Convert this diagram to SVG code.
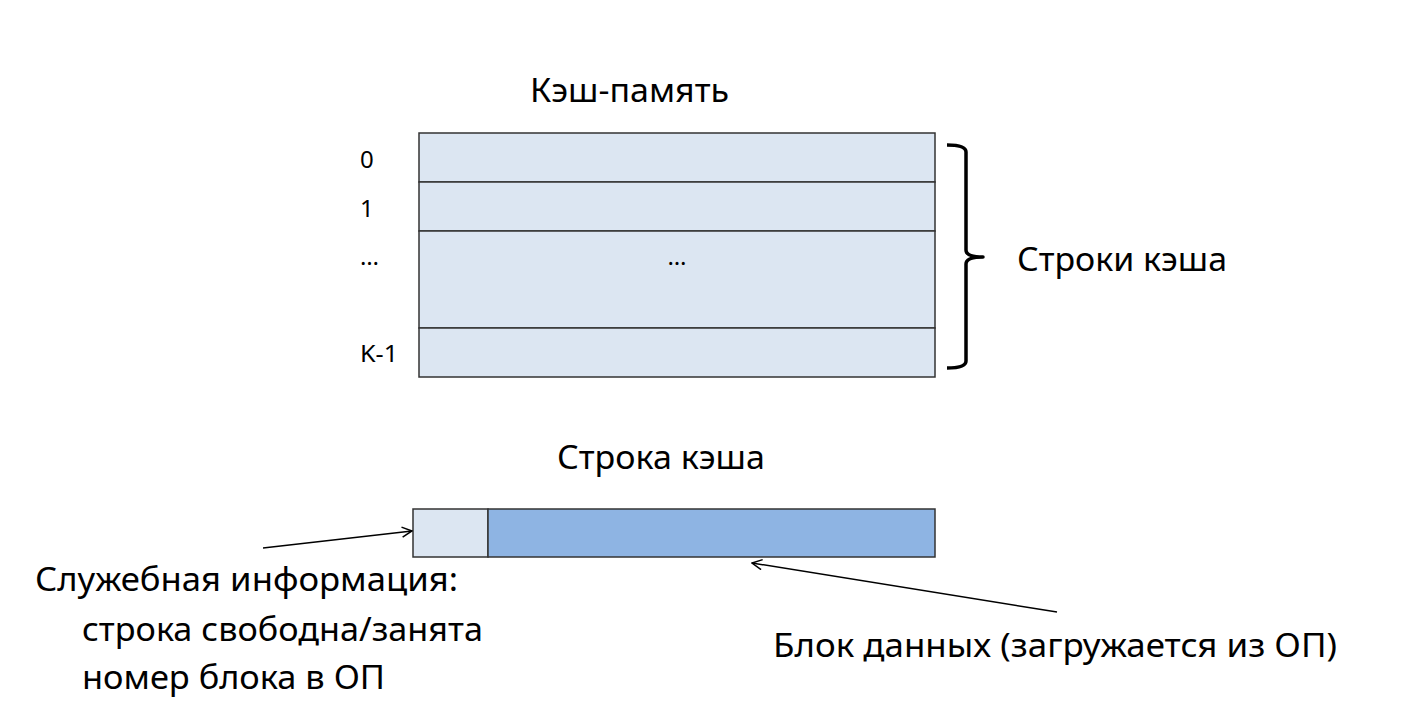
<svg xmlns="http://www.w3.org/2000/svg" width="1425" height="707" viewBox="0 0 1425 707">
<defs>
<style>
.t{font-family:"Noto Sans","Open Sans","DejaVu Sans",sans-serif;fill:#000;}
.big{font-size:32px;}
.lbl{font-size:24px;}
.cell{fill:#DCE6F2;stroke:#333;stroke-width:1.5;}
.data{fill:#8EB4E3;stroke:#333;stroke-width:1.5;}
.conn{fill:none;stroke:#000;stroke-width:1.5;}
</style>
<marker id="ah" viewBox="0 0 12 12" refX="11" refY="6" markerWidth="12" markerHeight="12" markerUnits="userSpaceOnUse" orient="auto">
<path d="M1,1 L11,6 L1,11" fill="none" stroke="#000" stroke-width="1.5"/>
</marker>
</defs>
<rect width="1425" height="707" fill="#fff"/>

<g id="title">
<text class="t big" x="530" y="102" textLength="199" lengthAdjust="spacingAndGlyphs">Кэш-память</text>
</g>

<g id="cache">
<rect class="cell" x="419" y="133" width="516" height="49"/>
<rect class="cell" x="419" y="182" width="516" height="49"/>
<rect class="cell" x="419" y="231" width="516" height="97"/>
<rect class="cell" x="419" y="328" width="516" height="49"/>
<text class="t lbl" x="677" y="265" text-anchor="middle">…</text>
</g>

<g id="row-labels">
<text class="t lbl" x="360" y="168">0</text>
<text class="t lbl" x="360" y="217">1</text>
<text class="t lbl" x="360" y="265">…</text>
<text class="t lbl" x="360" y="362" textLength="38" lengthAdjust="spacingAndGlyphs">K-1</text>
</g>

<g id="brace">
<path d="M947,145 Q966,145 966,152 L966,250 Q966,257 983,257 Q966,257 966,264 L966,361 Q966,368 947,368" fill="none" stroke="#000" stroke-width="3.5" stroke-linejoin="round"/>
<text class="t big" x="1017" y="271" textLength="210" lengthAdjust="spacingAndGlyphs">Строки кэша</text>
</g>

<g id="line-title">
<text class="t big" x="557" y="469" textLength="208" lengthAdjust="spacingAndGlyphs">Строка кэша</text>
</g>

<g id="cache-line">
<rect class="cell" x="413" y="509" width="75" height="48"/>
<rect class="data" x="488" y="509" width="447" height="48"/>
</g>

<g id="service-info">
<text class="t big" x="35" y="591" textLength="423" lengthAdjust="spacingAndGlyphs">Служебная информация:</text>
<text class="t big" x="82" y="641" textLength="401" lengthAdjust="spacingAndGlyphs">строка свободна/занята</text>
<text class="t big" x="82" y="689" textLength="303" lengthAdjust="spacingAndGlyphs">номер блока в ОП</text>
</g>

<g id="data-block">
<text class="t big" x="773" y="657" textLength="564" lengthAdjust="spacingAndGlyphs">Блок данных (загружается из ОП)</text>
</g>

<g id="connectors">
<line class="conn" x1="263" y1="548" x2="412" y2="531" marker-end="url(#ah)"/>
<line class="conn" x1="1057" y1="612" x2="752" y2="563" marker-end="url(#ah)"/>
</g>
</svg>
